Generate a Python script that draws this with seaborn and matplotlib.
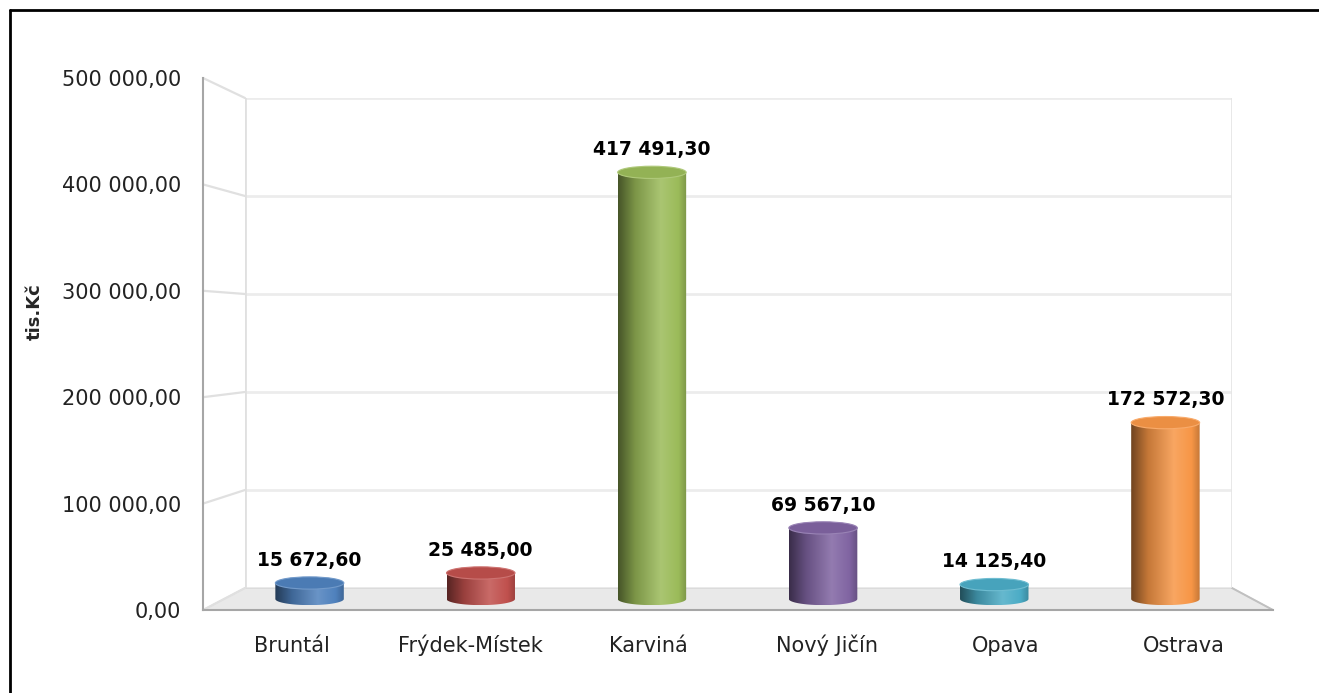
import numpy as np
import matplotlib
matplotlib.use("Agg")
import matplotlib.pyplot as plt
import seaborn as sns
from matplotlib.colors import LinearSegmentedColormap, to_rgb
from matplotlib.patches import Ellipse, Polygon
from matplotlib.lines import Line2D

# -------------------------------
# Data
# -------------------------------
districts = ["Bruntál", "Frýdek-Místek", "Karviná", "Nový Jičín", "Opava", "Ostrava"]
values = [15672.60, 25485.00, 417491.30, 69567.10, 14125.40, 172572.30]
bar_colors = ["#4F81BD", "#C0504D", "#9BBB59", "#8064A2", "#4BACC6", "#F79646"]
y_ticks = [0, 100000, 200000, 300000, 400000, 500000]
y_label = "tis.Kč"


def cz_format(v):
    """Czech number format: space thousands, comma decimals."""
    return f"{v:,.2f}".replace(",", " ").replace(".", ",")


def shade(color, f):
    r, g, b = to_rgb(color)
    if f < 1:
        return (r * f, g * f, b * f)
    f = f - 1
    return (r + (1 - r) * f, g + (1 - g) * f, b + (1 - b) * f)


# -------------------------------
# Figure / axes layout (pixel based)
# -------------------------------
W, H = 1319, 693
fig = plt.figure(figsize=(W / 100, H / 100), dpi=100)
sns.set_style("white")
plt.rcParams["font.family"] = ["DejaVu Sans"]


def px_axes(x0, y0, x1, y1, **kw):
    return fig.add_axes([x0 / W, 1 - y1 / H, (x1 - x0) / W, (y1 - y0) / H], **kw)


def fx(px):
    return px / W


def fy(py):
    return 1 - py / H


# back wall (gridlines), mid plane (bars), front plane (ticks)
ax_back = px_axes(245, 98, 1232, 588)
ax_front = px_axes(203, 78, 1273, 610)
# mid plane: 0 at pixel 599, 500000 at pixel 88, extended below for the round bottoms
MID_BOTTOM = -26 * 500000 / 511
ax = px_axes(224, 88, 1251, 625)
for a in (ax_back, ax_front):
    a.set_ylim(0, 500000)
    a.set_xlim(-0.5, 5.5)
    a.patch.set_alpha(0)
ax.patch.set_alpha(0)

# floor (drawn below all axes)
floor = Polygon([(fx(203), fy(610)), (fx(1273), fy(610)),
                 (fx(1232), fy(588)), (fx(245), fy(588))],
                closed=True, transform=fig.transFigure,
                facecolor="#e9e9e9", edgecolor="#d6d6d6", lw=1, zorder=-2)
fig.add_artist(floor)

# back wall gridlines + walls
ax_back.set_yticks(y_ticks)
ax_back.grid(axis="y", color="#ececec", lw=2)
ax_back.set_xticks([])
ax_back.tick_params(left=False, labelleft=False)
for s in ax_back.spines.values():
    s.set_visible(False)
ax_back.axvline(-0.5, color="#e0e0e0", lw=2)
ax_back.axvline(5.5, color="#e6e6e6", lw=2)

# perspective connectors from front ticks to back wall
for t in y_ticks:
    yf = 78 + (500000 - t) / 500000 * 532
    yb = 98 + (500000 - t) / 500000 * 490
    fig.add_artist(Line2D([fx(203), fx(245)], [fy(yf), fy(yb)],
                          transform=fig.transFigure, color="#e0e0e0", lw=1.6,
                          zorder=-1))
fig.add_artist(Line2D([fx(1273), fx(1232)], [fy(610), fy(588)],
                      transform=fig.transFigure, color="#c0c0c0", lw=1.4, zorder=-1))

# front axis: ticks and labels
ax_front.set_yticks(y_ticks)
ax_front.set_yticklabels([cz_format(t) for t in y_ticks], fontsize=15, color="#222222")
ax_front.set_xticks(range(len(districts)))
ax_front.set_xticklabels(districts, fontsize=15, color="#222222")
for lbl in ax_front.get_xticklabels():
    lbl.set_va("baseline")
ax_front.set_xticks(np.arange(-0.5, 6, 1), minor=True)
ax_front.tick_params(axis="x", which="major", length=0, pad=30)
ax_front.tick_params(axis="x", which="minor", length=6, color="#888888", width=1.2)
ax_front.tick_params(axis="y", length=6, color="#888888", width=1.2, pad=10)
for s in ["top", "right"]:
    ax_front.spines[s].set_visible(False)
for s in ["left", "bottom"]:
    ax_front.spines[s].set_color("#a6a6a6")
    ax_front.spines[s].set_linewidth(1.5)
ax_front.set_ylabel(y_label, fontsize=13, fontweight="bold")
ax_front.yaxis.set_label_coords(-0.149, 0.56)

# -------------------------------
# Bars (cylinders)
# -------------------------------
bw = 0.40
sns.barplot(x=districts, y=values, hue=districts, palette=bar_colors,
            width=bw, legend=False, ax=ax, zorder=2)
ax.set_axis_off()

eh = 12000  # ellipse height in data units
grad_pos = np.linspace(0, 1, 256)
for patch, col, v in zip(ax.patches, bar_colors, values):
    x0 = patch.get_x()
    w = patch.get_width()
    h = patch.get_height()
    patch.set_visible(False)
    cmap = LinearSegmentedColormap.from_list(
        "cyl", [(0, shade(col, 0.45)), (0.25, shade(col, 0.8)),
                (0.62, shade(col, 1.15)), (0.88, shade(col, 1.0)),
                (1, shade(col, 0.8))])
    img = ax.imshow(grad_pos[None, :], cmap=cmap, aspect="auto",
                    extent=[x0, x0 + w, -eh / 2, h], zorder=3)
    th = np.linspace(np.pi, 2 * np.pi, 50)
    outline = [(x0 + w / 2 + w / 2 * np.cos(a), eh / 2 * np.sin(a)) for a in th]
    outline += [(x0 + w, h), (x0, h)]
    clip = Polygon(outline, closed=True, transform=ax.transData)
    img.set_clip_path(clip)
    cap = Ellipse((x0 + w / 2, h), w, eh, facecolor=shade(col, 0.95),
                  edgecolor=shade(col, 1.2), lw=0.8, zorder=4)
    ax.add_patch(cap)
    ax.text(x0 + w / 2, h + 13000, cz_format(v), ha="center", va="bottom",
            fontsize=13.5, fontweight="bold", color="black")

ax.set_ylim(MID_BOTTOM, 500000)
ax.set_xlim(-0.5, 5.5)

# outer border (top + left only, as cropped)
fig.add_artist(Line2D([fx(10), 1], [fy(10), fy(10)],
                      transform=fig.transFigure, color="black", lw=2))
fig.add_artist(Line2D([fx(10), fx(10)], [0, fy(10)],
                      transform=fig.transFigure, color="black", lw=2))

fig.savefig("out.png", dpi=100)
